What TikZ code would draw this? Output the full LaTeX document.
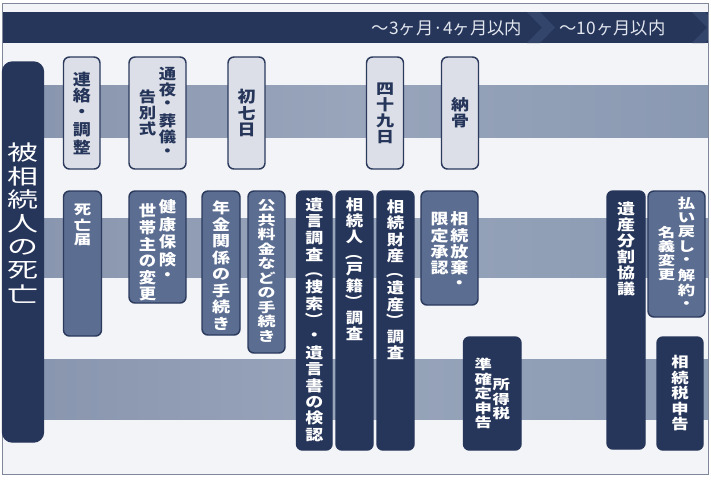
\documentclass[tikz,border=0pt]{standalone}
\usepackage{fontspec}
\usepackage{graphicx}
\newfontfamily\jp{Noto Sans CJK JP}
\definecolor{darkc}{HTML}{26355A}
\definecolor{midc}{HTML}{5B6D91}
\definecolor{lightc}{HTML}{DCDFE7}
\definecolor{bordc}{HTML}{2B3A5D}
\definecolor{bandl}{HTML}{8794AD}
\definecolor{bandm}{HTML}{98A5BB}
\definecolor{bandr}{HTML}{8A99B2}
\definecolor{bgc}{HTML}{F3F4F7}
\definecolor{framec}{HTML}{7F889A}
\definecolor{chevc}{HTML}{34456C}
\definecolor{bantext}{HTML}{E2E6EE}
\ExplSyntaxOn
\NewDocumentCommand\vcol{O{16}O{1}O{0}m}
 {
  \vtop
   {
    \offinterlineskip
    \kern \dim_eval:n {#3pt*3/4}
    \tl_map_inline:nn {#4}
     {
      \hbox_to_wd:nn {1.05em}
       {
        \hss
        \vbox_to_ht:nn {#1pt*3/4}
         {
          \vss
          \hbox:n
           {
            \str_case:nnF {##1}
             {
              {︵}{\rotatebox[origin=c]{-90}{\scalebox{0.8}[1]{（}}}
              {︶}{\rotatebox[origin=c]{-90}{\scalebox{0.8}[1]{）}}}
             }
             { \scalebox{1}[#2]{##1} }
           }
          \vss
         }
        \hss
       }
     }
   }
 }
\NewDocumentCommand\bx{mmmm}
 {
  \hbox_to_wd:nn {#1pt*3/4}
   {
    \hss
    \vbox_to_ht:nn {#2pt*3/4}
     {
      \tl_if_eq:nnTF {#3}{c} {\vss} {\kern \dim_eval:n {#3pt*3/4}}
      \hbox:n {#4}
      \vss
     }
    \hss
   }
 }
\ExplSyntaxOff
\tikzset{
  boxbase/.style={rounded corners=4.5pt, inner sep=0pt, outer sep=0pt, line width=1.1pt, anchor=north west},
  lbox/.style={boxbase, draw=bordc, fill=lightc, text=darkc},
  mbox/.style={boxbase, draw=bordc, fill=midc, text=white},
  dbox/.style={boxbase, draw=darkc, fill=darkc, text=white},
  fA/.style={font=\jp\bfseries\fontsize{13.5pt}{13.5pt}\selectfont},
  fB/.style={font=\jp\bfseries\fontsize{13pt}{13pt}\selectfont},
  bantxt/.style={inner sep=0pt, text=bantext, font=\jp\fontsize{13pt}{13pt}\selectfont},
}
\begin{document}
\begin{tikzpicture}[x=0.75pt,y=-0.75pt]
\useasboundingbox (0,0) rectangle (711,480);
\fill[white] (0,0) rectangle (711,480);
\fill[bgc] (2.5,3) rectangle (708.5,474.5);
% bands
\foreach \a/\b in {85/137,218/277,359/419}
  \shade[left color=bandl, right color=bandr, middle color=bandm] (2.5,\a) rectangle (708.5,\b);
% banner
\fill[darkc] (2.5,12) rectangle (708.5,43);
\begin{scope}
  \clip (2.5,12) rectangle (708.5,43);
  \fill[chevc] (527,12) -- (540,12) -- (555,27.5) -- (540,43) -- (527,43) -- (542,27.5) -- cycle;
  \fill[chevc] (692,12) -- (705,12) -- (720,27.5) -- (705,43) -- (692,43) -- (707,27.5) -- cycle;
\end{scope}
\draw[framec, line width=0.75pt] (2.5,3) rectangle (708.5,474.5);
\node[bantxt] (p1) at (447,27.5) {～3ヶ月·4ヶ月以内};
\node[bantxt] (p2) at (612.5,27.5) {～10ヶ月以内};
% left box
\node[dbox, rounded corners=7.5pt, font=\jp\fontsize{23.25pt}{23.25pt}\selectfont] (death) at (2.5,62)
  {\bx{41}{380}{79}{\vcol[23.5][0.68]{被相続人の死亡}}};
% top row
\node[lbox, fA] (renraku) at (63.5,57) {\bx{36.5}{112}{c}{\vcol[17][0.87]{連絡・調整}}};
\node[lbox, fB] (tsuya) at (129,57) {\bx{57}{112}{c}{\vcol[16][0.85][23]{告別式}\kern1.35pt\vcol[15.7][0.85]{通夜・葬儀・}}};
\node[lbox, fA] (shonanoka) at (228,57) {\bx{37}{112}{c}{\vcol[16.5][0.87]{初七日}}};
\node[lbox, fA] (shijuku) at (366.5,57) {\bx{37}{112}{c}{\vcol[16][0.84]{四十九日}}};
\node[lbox, fA] (noukotsu) at (441.5,57) {\bx{37}{112}{c}{\vcol[16][0.84]{納骨}}};
% second row
\node[mbox, fB] (todoke) at (63.5,191) {\bx{38}{145}{12}{\vcol[14.5][0.77]{死亡届}}};
\node[mbox, fB] (kenko) at (129,191) {\bx{57}{112}{7}{\vcol[16.5][0.88][5]{世帯主の変更}\kern1.35pt\vcol[17.5][0.88]{健康保険・}}};
\node[mbox, fA] (nenkin) at (202,191) {\bx{38}{144}{9}{\vcol[16.5][0.82]{年金関係の手続き}}};
\node[mbox, fA] (koukyou) at (248,191) {\bx{37}{162}{7.5}{\vcol[14.5][0.74]{公共料金などの手続き}}};
\node[dbox, fA] (yuigon) at (296.5,191) {\bx{35.5}{259}{6}{\vcol[16.4][0.82]{遺言調査︵捜索︶・遺言書の検認}}};
\node[dbox, fB] (souzokunin) at (336,191) {\bx{37}{259}{6}{\vcol[16.1][0.86]{相続人︵戸籍︶調査}}};
\node[dbox, fB] (zaisan) at (377,191) {\bx{37}{259}{8}{\vcol[16.2][0.86]{相続財産︵遺産︶調査}}};
\node[mbox, fA] (houki) at (421,191) {\bx{57}{114}{20}{\vcol[16.3][0.84]{限定承認}\kern0.8pt\vcol[16.3][0.84]{相続放棄・}}};
\node[dbox, fB] (shotoku) at (463.5,337) {\bx{57.5}{113}{c}{\vcol[14.5][0.77]{準確定申告}\kern-0.1pt\vcol[14.5][0.77][20]{所得税}}};
\node[dbox, fA] (bunkatsu) at (607,191) {\bx{38}{258}{10}{\vcol[16][0.82]{遺産分割協議}}};
\node[mbox, fB] (haraimodoshi) at (648,191) {\bx{57}{126}{5}{\vcol[14][0.75][30]{名義変更}\kern1.35pt\vcol[14.5][0.77]{払い戻し・解約・}}};
\node[dbox, fB] (souzokuzei) at (657,337) {\bx{46}{113}{c}{\vcol[15.5][0.83]{相続税申告}}};
\end{tikzpicture}
\end{document}
